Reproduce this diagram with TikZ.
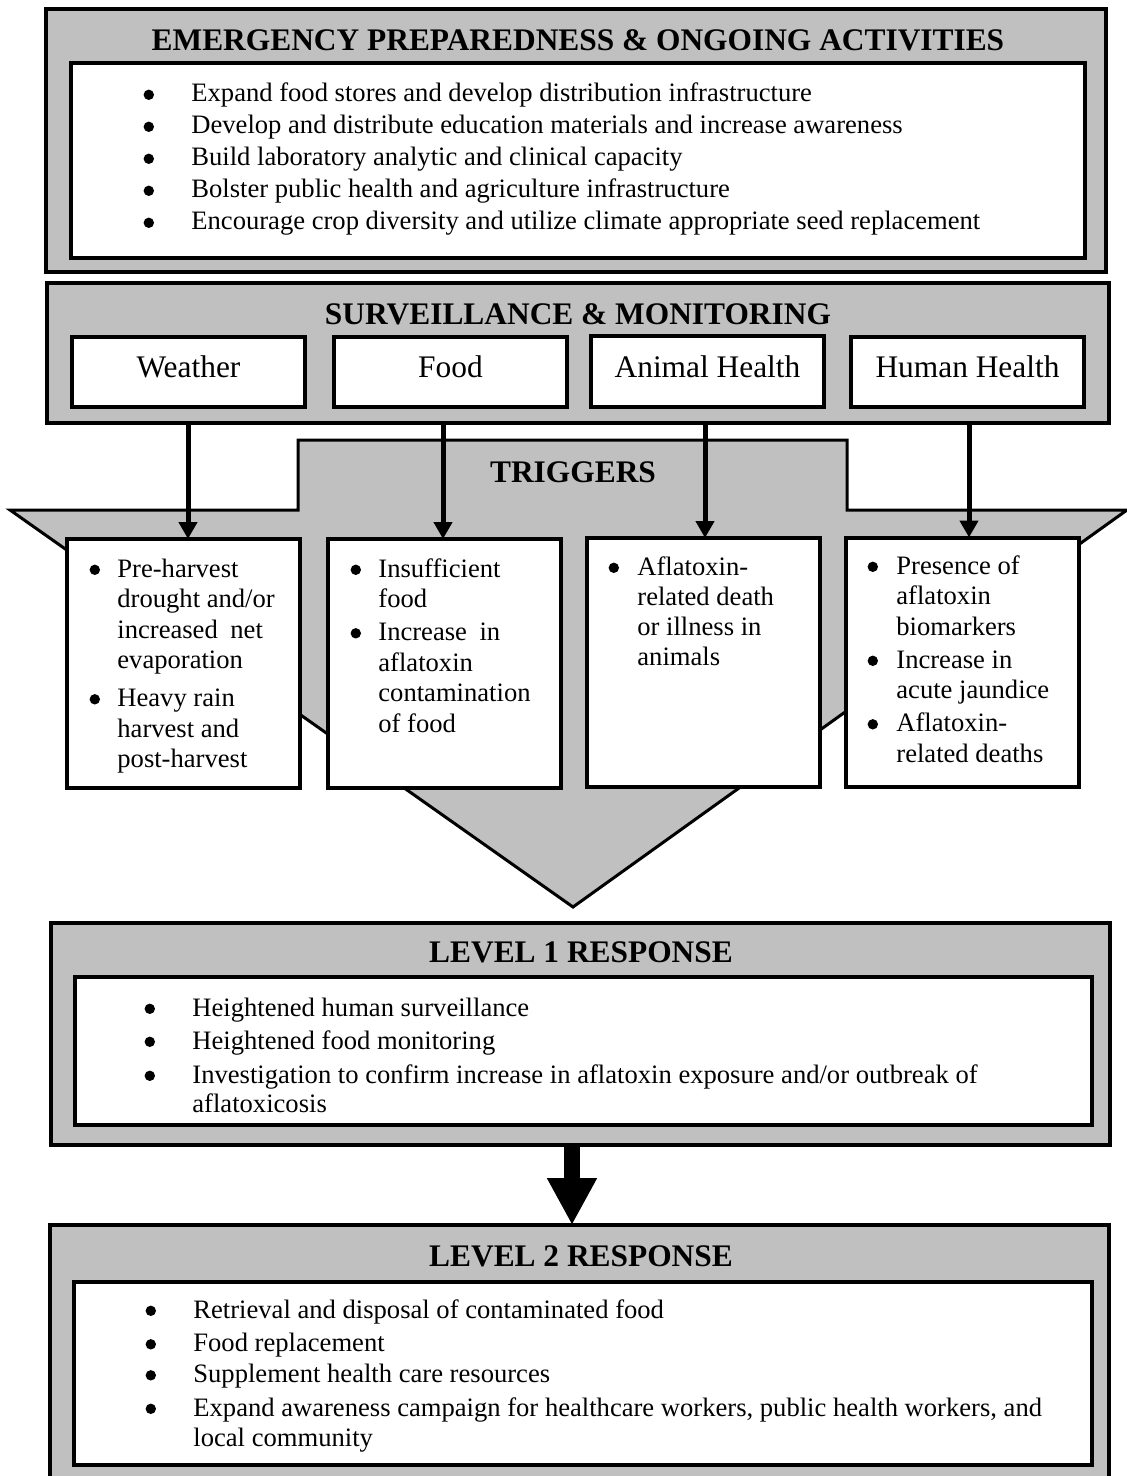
\documentclass[tikz,border=0pt]{standalone}
\usepackage{fontspec}
\setmainfont{Liberation Serif}
\usetikzlibrary{arrows.meta}
\definecolor{boxgray}{RGB}{192,192,192}
\newcommand\myTitleFont{\fontsize{15.7}{18}\selectfont\bfseries}
\newcommand\myLabelFont{\fontsize{15.7}{18}\selectfont}
\newcommand\mybul{\tikz[baseline=0pt]{\path (0,0) (5.4pt,0); \fill[black] (2.7pt,3.6pt) circle (2.6pt);}}
\begin{document}
\begin{tikzpicture}[x=0.5pt,y=-0.5pt,
  graybox/.style={draw=black, line width=2pt, fill=boxgray, inner sep=0pt, outer sep=0pt},
  whitebox/.style={draw=black, line width=2pt, fill=white, inner sep=0pt, outer sep=0pt},
  subbox/.style={whitebox, minimum width=116.5pt, minimum height=35pt, font=\myLabelFont, text height=10.4pt, text depth=4.4pt},
  trigbox/.style={whitebox, minimum width=116.5pt, minimum height=124.5pt},
  titletext/.style={font=\myTitleFont, inner sep=0pt, anchor=base},
  listtext/.style={inner sep=0pt, anchor=base west, align=left},
  trigshape/.style={draw=black, line width=1.5pt, fill=boxgray, line join=miter},
  arr/.style={line width=2.5pt, -{Triangle[width=9pt,length=8.5pt]}},
  bigarr/.style={line width=8pt, -{Triangle[width=23.5pt,length=23.5pt]}}]
\useasboundingbox (0,0) rectangle (1127,1476);
\clip (0,0) rectangle (1127,1476);
\fill[white] (0,0) rectangle (1127,1476);

% Emergency preparedness
\node[graybox, minimum width=530pt, minimum height=131.5pt] (emerg) at (576,140.5) {};
\node[titletext] (emergT) at (578,51) {EMERGENCY PREPAREDNESS \& ONGOING ACTIVITIES};
\node[whitebox, minimum width=507pt, minimum height=97.5pt] (emergIn) at (578,160.5) {};
\node[listtext] (emergL) at (143,102) {\fontsize{13.3}{16}\selectfont
 \begin{tabular}[t]{@{}p{24pt}@{}l@{}}
 \mybul & Expand food stores and develop distribution infrastructure\\
 \mybul & Develop and distribute education materials and increase awareness\\
 \mybul & Build laboratory analytic and clinical capacity\\
 \mybul & Bolster public health and agriculture infrastructure\\
 \mybul & Encourage crop diversity and utilize climate appropriate seed replacement
 \end{tabular}};

% Surveillance
\node[graybox, minimum width=531pt, minimum height=70pt] (surv) at (578,353) {};
\node[titletext] (survT) at (578,325) {SURVEILLANCE \& MONITORING};
\node[subbox] (sw) at (188.5,372) {Weather};
\node[subbox] (sf) at (450.5,372) {Food};
\node[subbox] (sa) at (707.5,371.5) {Animal Health};
\node[subbox] (sh) at (967.5,372) {Human Health};

% Triggers shape
\draw[trigshape] (298,440) -- (847,440) -- (847,510) -- (1127,510) -- (573,907) -- (10,510) -- (298,510) -- cycle;
\node[titletext] (trigT) at (573,482) {TRIGGERS};

% Trigger boxes
\node[trigbox] (tw) at (183.5,663.5) {};
\node[trigbox] (tf) at (444.5,663.5) {};
\node[trigbox] (ta) at (703.5,662.5) {};
\node[trigbox] (th) at (962.5,662) {};

\node[listtext] (twL) at (89,577) {\fontsize{13.3}{15.25}\selectfont
 \begin{tabular}[t]{@{}p{14pt}@{}l@{}}
 \mybul & Pre-harvest\\
 & drought and/or\\
 & increased\hspace{6.3pt}net\\
 & evaporation\\[3.75pt]
 \mybul & Heavy rain\\
 & harvest and\\
 & post-harvest
 \end{tabular}};
\node[listtext] (tfL) at (350,577) {\fontsize{13.3}{15.25}\selectfont
 \begin{tabular}[t]{@{}p{14pt}@{}l@{}}
 \mybul & Insufficient\\
 & food\\[1.25pt]
 \mybul & Increase\hspace{6.3pt}in\\
 & aflatoxin\\
 & contamination\\
 & of food
 \end{tabular}};
\node[listtext] (taL) at (608,575) {\fontsize{13.3}{15}\selectfont
 \begin{tabular}[t]{@{}p{14.5pt}@{}l@{}}
 \mybul & Aflatoxin-\\
 & related death\\
 & or illness in\\
 & animals
 \end{tabular}};
\node[listtext] (thL) at (867,574) {\fontsize{13.3}{15.25}\selectfont
 \begin{tabular}[t]{@{}p{14.5pt}@{}l@{}}
 \mybul & Presence of\\
 & aflatoxin\\
 & biomarkers\\[1.25pt]
 \mybul & Increase in\\
 & acute jaundice\\[1.25pt]
 \mybul & Aflatoxin-\\
 & related deaths
 \end{tabular}};

% Arrows surveillance -> triggers
\coordinate (aw) at (188,0);
\coordinate (af) at (443,0);
\coordinate (aa) at (705,0);
\coordinate (ah) at (969,0);
\draw[arr] (aw |- surv.south) -- (aw |- tw.north);
\draw[arr] (af |- surv.south) -- (af |- tf.north);
\draw[arr] (aa |- surv.south) -- (aa |- ta.north);
\draw[arr] (ah |- surv.south) -- (ah |- th.north);

% Level 1
\node[graybox, minimum width=529.5pt, minimum height=111pt] (lv1) at (580.5,1034) {};
\node[titletext] (lv1T) at (581,962) {LEVEL 1 RESPONSE};
\node[whitebox, minimum width=508.5pt, minimum height=74pt] (lv1In) at (583.5,1051) {};
\node[listtext] (lv1L) at (144,1016) {\fontsize{13.3}{14.5}\selectfont
 \begin{tabular}[t]{@{}p{24pt}@{}l@{}}
 \mybul & Heightened human surveillance\\[2pt]
 \mybul & Heightened food monitoring\\[2.5pt]
 \mybul & Investigation to confirm increase in aflatoxin exposure and/or outbreak of\\
 & aflatoxicosis
 \end{tabular}};

% Level 2
\node[graybox, minimum width=529.5pt, minimum height=137.5pt] (lv2) at (579.5,1362.5) {};
\node[titletext] (lv2T) at (581,1266) {LEVEL 2 RESPONSE};
\node[whitebox, minimum width=509pt, minimum height=91.5pt] (lv2In) at (583,1373.5) {};
\node[listtext] (lv2L) at (145,1318) {\fontsize{13.3}{15}\selectfont
 \begin{tabular}[t]{@{}p{24pt}@{}l@{}}
 \mybul & Retrieval and disposal of contaminated food\\[1.75pt]
 \mybul & Food replacement\\[0.5pt]
 \mybul & Supplement health care resources\\[1.75pt]
 \mybul & Expand awareness campaign for healthcare workers, public health workers, and\\
 & local community
 \end{tabular}};

% Big arrow Level 1 -> Level 2
\coordinate (bigx) at (572,0);
\draw[bigarr] (lv1.south -| bigx) -- (lv2.north -| bigx);
\end{tikzpicture}
\end{document}
